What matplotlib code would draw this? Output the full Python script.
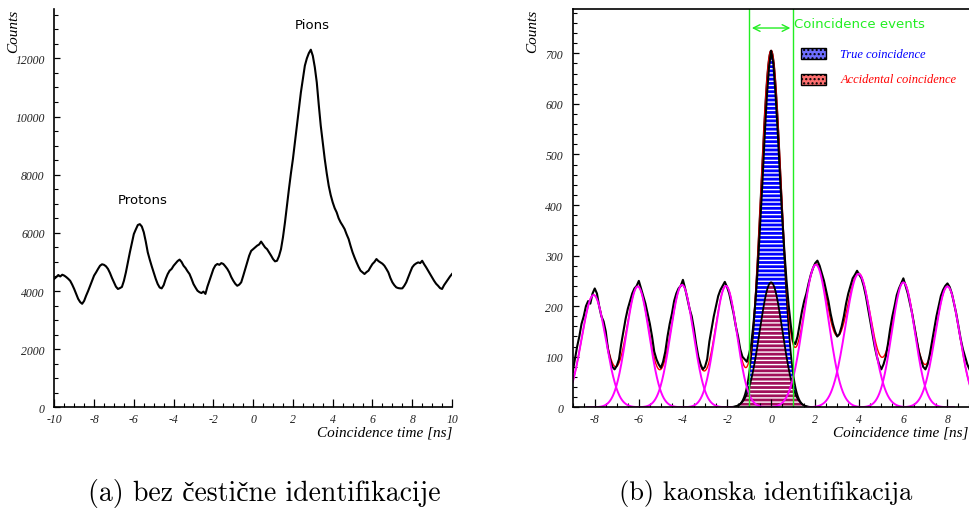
import numpy as np
import matplotlib
matplotlib.use("Agg")
import matplotlib.pyplot as plt
from matplotlib.patches import Rectangle
from matplotlib.ticker import MultipleLocator

# ---- data ----
# (a) coincidence time without identification, 0.1 ns steps from -10 to 10
t_a = np.round(np.arange(-10.0, 10.05, 0.1), 2)
counts_a = [
    4420, 4480, 4550, 4500, 4560, 4530, 4480, 4420, 4350, 4220,
    4070, 3900, 3730, 3620, 3560, 3660, 3840, 4000, 4180, 4350,
    4530, 4640, 4760, 4870, 4920, 4900, 4850, 4760, 4620, 4450,
    4300, 4150, 4070, 4100, 4140, 4350, 4640, 4980, 5330, 5640,
    5960, 6120, 6270, 6300, 6220, 6020, 5700, 5330, 5080, 4850,
    4640, 4420, 4240, 4120, 4090, 4200, 4410, 4580, 4700, 4760,
    4870, 4950, 5030, 5080, 5000, 4870, 4790, 4680, 4585, 4420,
    4240, 4120, 4010, 3960, 3930, 3980, 3900, 4150, 4355, 4560,
    4755, 4880, 4930, 4900, 4960, 4930, 4850, 4760, 4640, 4480,
    4355, 4250, 4180, 4220, 4300, 4520, 4755, 5000, 5215, 5380,
    5440, 5500, 5560, 5600, 5700, 5600, 5500, 5440, 5330, 5220,
    5100, 5020, 5040, 5200, 5440, 5850, 6360, 6950, 7510, 8050,
    8540, 9100, 9685, 10260, 10830, 11300, 11750, 12000, 12180, 12300,
    12090, 11700, 11175, 10400, 9685, 9100, 8540, 8050, 7620, 7300,
    7050, 6850, 6705, 6500, 6360, 6250, 6130, 5950, 5790, 5550,
    5330, 5150, 4985, 4830, 4700, 4640, 4585, 4650, 4700, 4820,
    4930, 5000, 5100, 5030, 4985, 4940, 4870, 4760, 4640, 4450,
    4300, 4200, 4125, 4100, 4090, 4090, 4180, 4300, 4480, 4650,
    4815, 4900, 4950, 4985, 4960, 5040, 4920, 4815, 4700, 4580,
    4470, 4350, 4250, 4180, 4100, 4070, 4200, 4300, 4400, 4500,
    4585,
]

# (b) kaon identification, 0.1 ns steps from -9 to 9
t_b = np.round(np.arange(-9.0, 9.05, 0.1), 2)
counts_b = [
    70, 95, 120, 140, 165, 180, 200, 210, 205, 225,
    235, 225, 200, 180, 170, 150, 115, 95, 80, 75,
    82, 95, 125, 150, 175, 195, 210, 225, 235, 240,
    250, 235, 220, 205, 185, 165, 140, 110, 95, 85,
    78, 90, 110, 140, 165, 185, 210, 225, 235, 240,
    252, 235, 215, 195, 180, 155, 125, 100, 85, 75,
    80, 95, 130, 155, 180, 200, 220, 232, 240, 248,
    238, 225, 205, 185, 160, 140, 115, 100, 95, 90,
    105, 125, 165, 215, 280, 360, 440, 530, 610, 670,
    705, 680, 620, 545, 460, 380, 310, 250, 200, 160,
    130, 125, 140, 165, 190, 210, 225, 245, 262, 275,
    285, 290, 280, 265, 250, 230, 210, 185, 165, 150,
    140, 145, 160, 180, 205, 225, 240, 255, 262, 270,
    262, 255, 240, 220, 195, 170, 145, 120, 100, 85,
    75, 85, 100, 125, 155, 180, 200, 222, 235, 245,
    255, 240, 225, 205, 185, 160, 135, 110, 95, 80,
    75, 85, 105, 130, 155, 180, 200, 220, 232, 240,
    245, 238, 225, 205, 185, 160, 135, 115, 100, 85,
    75,
]

# fitted gaussians (center, height, sigma)
side_centers = [-8.05, -6.05, -4.04, -2.05, 2.03, 3.97, 6.0, 8.0]
side_heights = [222, 239, 242, 240, 282, 264, 247, 239]
side_sigmas = [0.55, 0.52, 0.52, 0.50, 0.58, 0.60, 0.52, 0.55]
true_peak = (0.0, 705, 0.46)
accidental_peak = (0.0, 247, 0.52)


def gauss(x, c, h, s):
    return h * np.exp(-0.5 * ((x - c) / s) ** 2)


plt.rcParams["font.family"] = "serif"
plt.rcParams["font.serif"] = ["Liberation Serif", "DejaVu Serif"]
plt.rcParams["axes.unicode_minus"] = False
plt.rcParams["hatch.linewidth"] = 1.0

fig = plt.figure(figsize=(9.7, 5.1), dpi=100)
ax1 = fig.add_axes([54.3 / 970, 1 - 408.3 / 510, (452 - 54.3) / 970, 398.3 / 510])
ax2 = fig.add_axes([572.7 / 970, 1 - 408.3 / 510, (969.5 - 572.7) / 970, 398 / 510])


def style_axes(ax, xmaj, xmin, ymaj, ymin):
    ax.xaxis.set_major_locator(MultipleLocator(xmaj))
    ax.xaxis.set_minor_locator(MultipleLocator(xmin))
    ax.yaxis.set_major_locator(MultipleLocator(ymaj))
    ax.yaxis.set_minor_locator(MultipleLocator(ymin))
    ax.tick_params(axis="x", which="major", direction="in", length=6, width=0.9, pad=4, labelsize=8.5)
    ax.tick_params(axis="x", which="minor", direction="in", length=3, width=0.8)
    ax.tick_params(axis="y", which="major", direction="in", length=4, width=0.9, pad=7, labelsize=8.5)
    ax.tick_params(axis="y", which="minor", direction="in", length=2.8, width=0.8)
    for lab in ax.get_xticklabels() + ax.get_yticklabels():
        lab.set_fontstyle("italic")
        lab.set_color("#222222")
    for side in ["left", "bottom", "top"]:
        ax.spines[side].set_linewidth(1.2)
    ax.spines["right"].set_visible(False)


# ---- panel (a) ----
ax1.plot(t_a, counts_a, color="black", lw=1.5)
ax1.set_xlim(-10, 10)
ax1.set_ylim(0, 13700)
style_axes(ax1, 2, 0.5, 2000, 500)
ax1.spines["top"].set_visible(False)
ax1.text(2.97, 13170, "Pions", family="DejaVu Sans", fontsize=9.5, ha="center", va="center")
ax1.text(-5.57, 7160, "Protons", family="DejaVu Sans", fontsize=9.5, ha="center", va="center")

# ---- panel (b) ----
xs = np.linspace(-9, 9, 1801)
xc = np.linspace(-2.2, 2.2, 441)
ax2.fill_between(xc, gauss(xc, *true_peak), color="#0000ff", edgecolor="white", hatch="----", lw=0)
ax2.fill_between(xc, gauss(xc, *accidental_peak), color="#a0105a", edgecolor="white", hatch="----", lw=0)
ax2.plot(xc, gauss(xc, *true_peak), color="black", lw=1.3)
ax2.plot(xc, gauss(xc, *accidental_peak), color="black", lw=1.3)

total = gauss(xs, *true_peak)
for c, h, s in zip(side_centers, side_heights, side_sigmas):
    total = total + gauss(xs, c, h, s)
ax2.plot(xs, total, color="red", lw=1.0)

ax2.plot(t_b, counts_b, color="black", lw=1.5)

for c, h, s in zip(side_centers, side_heights, side_sigmas):
    xg = np.linspace(c - 2.3, c + 2.3, 400)
    ax2.plot(xg, gauss(xg, c, h, s), color="#ff00ff", lw=1.4)

green = "#22ee22"
ax2.axvline(-1, color=green, lw=1.0)
ax2.axvline(1, color=green, lw=1.0)
ax2.annotate("", xy=(-1, 750), xytext=(1, 750),
             arrowprops=dict(arrowstyle="<->", color=green, lw=1.0, mutation_scale=12))
ax2.text(1.05, 758, "Coincidence events", color=green, family="DejaVu Sans",
         fontsize=9.5, ha="left", va="center")

ax2.set_xlim(-9, 9)
ax2.set_ylim(0, 787)
style_axes(ax2, 2, 0.5, 100, 20)

# legend boxes
for y0, fc, label, tc in [(0.875, "#6f6fff", "True coincidence", "blue"),
                          (0.8106, "#ff7070", "Accidental coincidence", "red")]:
    ax2.add_patch(Rectangle((0.5764, y0), 0.063, 0.027, transform=ax2.transAxes,
                            facecolor=fc, edgecolor="black", lw=1.0, hatch="....", clip_on=False))
    ax2.text(0.6745, y0 + 0.0135, label, transform=ax2.transAxes, color=tc,
             fontsize=9, style="italic", ha="left", va="center")

# axis titles
for xr, xl in [(452 / 970, 14 / 970), (968 / 970, 533 / 970)]:
    fig.text(xr, 1 - 433 / 510, "Coincidence time [ns]", style="italic", fontsize=11,
             ha="right", va="center")
    fig.text(xl, 1 - 10 / 510, "Counts", style="italic", fontsize=11, rotation=90,
             ha="center", va="top")

# captions (cmr10 lacks the caron letter, Liberation Serif fills it in)
cap_font = ["cmr10", "Liberation Serif"]
fig.text(264 / 970, 1 - 494 / 510, "(a) bez čestične identifikacije", family=cap_font,
         fontsize=20, ha="center", va="center")
fig.text(766 / 970, 1 - 494 / 510, "(b) kaonska identifikacija", family=cap_font,
         fontsize=19, ha="center", va="center")

fig.savefig("out.png", dpi=100)
